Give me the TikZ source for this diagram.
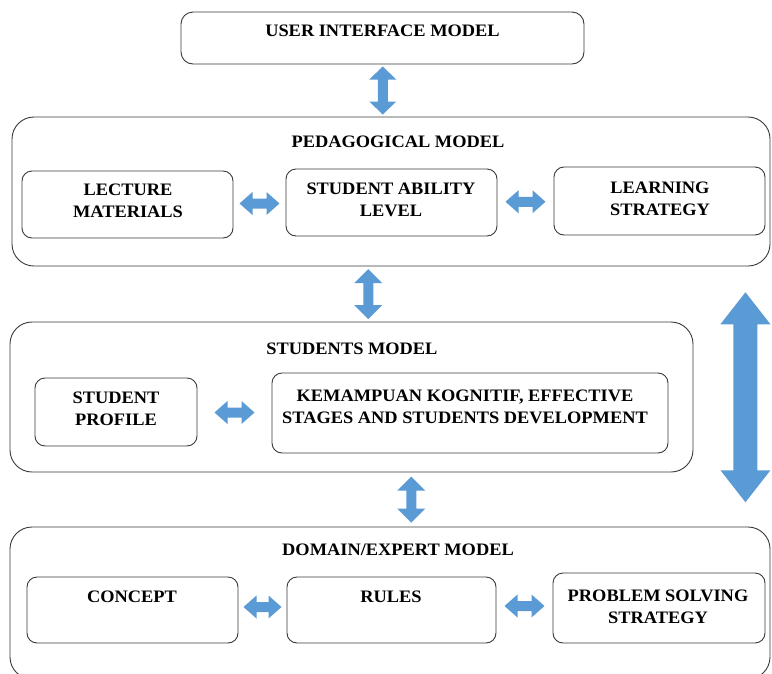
\documentclass[tikz,border=0pt]{standalone}
\usepackage{fontspec}
\setmainfont{Liberation Serif}[FakeStretch=1.05]
\usetikzlibrary{calc}
\definecolor{ablue}{HTML}{5B9BD5}
\definecolor{edge}{HTML}{3A3A3A}
\tikzset{
  outerbox/.style={draw=edge, line width=0.9pt, rounded corners=22pt, inner sep=0pt},
  innerbox/.style={draw=edge, line width=0.9pt, rounded corners=10pt, inner sep=0pt},
  lbl/.style={font=\bfseries\fontsize{17.5}{22}\selectfont, align=center, inner sep=0pt},
  blockarrow/.style={fill=ablue, draw=none}
}
% horizontal double block arrow: centre, half length, half head width, half shaft, head length
\newcommand\hblock[5]{\begin{scope}[shift={(#1)}]
  \fill[blockarrow] (-#2,0) -- (-#2+#5,#3) -- (-#2+#5,#4) -- (#2-#5,#4) -- (#2-#5,#3) -- (#2,0)
     -- (#2-#5,-#3) -- (#2-#5,-#4) -- (-#2+#5,-#4) -- (-#2+#5,-#3) -- cycle;
\end{scope}}
\newcommand\vblock[5]{\begin{scope}[shift={(#1)}]
  \fill[blockarrow] (0,-#2) -- (#3,-#2+#5) -- (#4,-#2+#5) -- (#4,#2-#5) -- (#3,#2-#5) -- (0,#2)
     -- (-#3,#2-#5) -- (-#4,#2-#5) -- (-#4,-#2+#5) -- (-#3,-#2+#5) -- cycle;
\end{scope}}
\begin{document}
\begin{tikzpicture}[x=1pt,y=-1pt]
\useasboundingbox (0,0) rectangle (772,673);
\clip (0,0) rectangle (772,673);
\fill[white] (0,0) rectangle (772,673);

% user interface
\node[innerbox, rounded corners=12pt, minimum width=403, minimum height=52] (ui) at (382.5,38) {};
\node[lbl] (uit) at (382.5,31) {USER INTERFACE MODEL};

% pedagogical model
\node[outerbox, minimum width=758, minimum height=149] (ped) at (391,191.5) {};
\node[lbl] (pedt) at (398,142) {PEDAGOGICAL MODEL};
\node[innerbox, minimum width=211, minimum height=67] (lm) at (127.5,204.5) {};
\node[lbl] at (128,201) {LECTURE\\MATERIALS};
\node[innerbox, minimum width=211, minimum height=67] (sal) at (391.5,202.5) {};
\node[lbl] at (391,200) {STUDENT ABILITY\\LEVEL};
\node[innerbox, minimum width=211, minimum height=68] (ls) at (659.5,201) {};
\node[lbl] at (660,198.5) {LEARNING\\STRATEGY};

% students model
\node[outerbox, minimum width=683, minimum height=150] (stu) at (351.5,397) {};
\node[lbl] (stut) at (352,349) {STUDENTS MODEL};
\node[innerbox, minimum width=162, minimum height=68] (sp) at (116,412) {};
\node[lbl] at (116,409) {STUDENT\\PROFILE};
\node[innerbox, minimum width=396, minimum height=80] (kk) at (470,413) {};
\node[lbl] at (465,407) {KEMAMPUAN KOGNITIF, EFFECTIVE\\STAGES AND STUDENTS DEVELOPMENT};

% domain model
\node[outerbox, minimum width=760, minimum height=152] (dom) at (390,603) {};
\node[lbl] (domt) at (398,550) {DOMAIN/EXPERT MODEL};
\node[innerbox, minimum width=211, minimum height=66] (con) at (132.5,610) {};
\node[lbl] at (132,597) {CONCEPT};
\node[innerbox, minimum width=209, minimum height=66] (rul) at (391.5,610) {};
\node[lbl] at (391,597) {RULES};
\node[innerbox, minimum width=212, minimum height=70] (pss) at (659,608) {};
\node[lbl] at (658,607) {PROBLEM SOLVING\\STRATEGY};

% connector positions from node names
\coordinate (a1) at ($(lm.east)!0.5!(sal.west)$);
\coordinate (a2) at ($(sal.east)!0.5!(ls.west)$);
\coordinate (a3) at ($(sp.east)!0.5!(kk.west)$);
\coordinate (a4) at ($(con.east)!0.5!(rul.west)+(0,-3)$);
\coordinate (a5) at ($(rul.east)!0.5!(pss.west)+(0,-3)$);
\coordinate (v1) at ($(ui.south)!0.5!(ped.north)+(-4,0)$);
\coordinate (v2) at ($(ped.south)!0.5!(stu.north)+(-3,0)$);
\coordinate (v3) at ($(stu.south)!0.5!(dom.north)+(40.5,0)$);
\coordinate (v4) at ($(ped.east)!0.5!(dom.east)+(-25,0)$);

\hblock{a1}{20}{11.5}{5}{13}
\hblock{a2}{20}{11.5}{5}{13}
\hblock{a3}{20}{11.5}{5}{13}
\hblock{a4}{19}{11.5}{5}{13}
\hblock{a5}{20}{11.5}{5}{13}
\vblock{v1}{24}{13.5}{5}{13}
\vblock{v2}{25}{14}{5}{14}
\vblock{v3}{23}{14}{5}{14}
\vblock{v4}{105}{25}{12}{32}
\end{tikzpicture}
\end{document}
